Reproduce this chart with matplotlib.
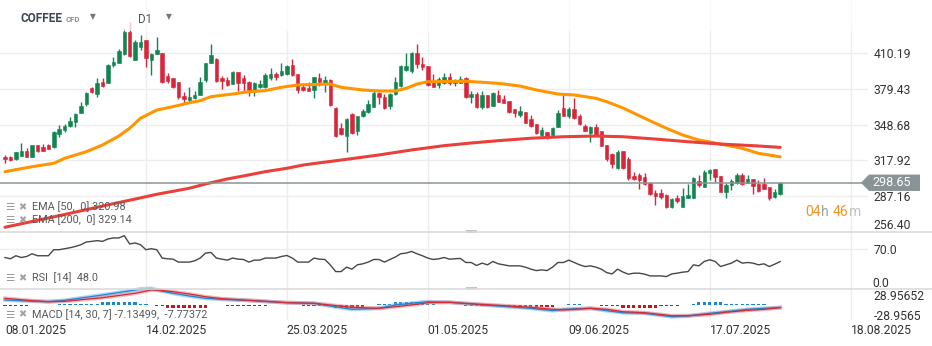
import matplotlib
matplotlib.use("Agg")
import matplotlib.pyplot as plt
from matplotlib.patches import Polygon, Rectangle
from matplotlib.lines import Line2D
import numpy as np

plt.rcParams['font.family'] = ['Roboto', 'DejaVu Sans']

# ---------------- data ----------------
opens = [321.1, 320.8, 318.9, 322.0, 325.7, 321.1, 330.9, 329.7, 330.9, 329.7,
         340.4, 344.1, 347.8, 350.7, 359.0, 366.5, 380.0, 374.9, 385.7, 384.9,
         400.1, 402.1, 410.0, 428.5, 404.4, 415.6, 421.6, 404.4, 409.6, 410.2,
         390.6, 388.6, 385.2, 373.4, 369.9, 371.9, 374.3, 387.2, 401.6, 405.3,
         389.2, 387.2, 383.7, 394.1, 388.6, 385.7, 377.1, 380.9, 380.9, 388.6,
         392.4, 391.5, 392.4, 400.1, 392.4, 380.9, 380.0, 378.6, 388.6, 384.3,
         387.2, 362.8, 345.6, 338.9, 357.9, 343.5, 356.2, 359.9, 364.2, 375.7,
         372.8, 364.8, 375.1, 382.0, 395.8, 395.2, 410.7, 401.0, 399.2, 386.6,
         382.9, 384.9, 389.5, 384.3, 384.9, 388.6, 372.8, 375.1, 363.6, 374.3,
         365.0, 374.3, 370.6, 369.1, 361.9, 357.0, 359.4, 353.3, 349.0, 339.8,
         342.1, 339.8, 347.0, 362.8, 356.2, 361.9, 356.2, 347.5, 341.8, 346.4,
         343.2, 331.2, 323.4, 311.1, 326.0, 319.1, 304.7, 305.3, 303.9, 298.2,
         290.1, 289.6, 288.1, 278.0, 285.2, 278.0, 285.8, 285.8, 300.4, 295.2,
         307.3, 310.2, 304.5, 291.0, 296.5, 298.2, 305.3, 298.7, 301.9, 297.6,
         297.6, 294.7, 286.1, 288.7]
highs = [322.6, 321.7, 325.4, 332.6, 328.3, 331.0, 331.2, 331.8, 331.8, 343.2,
         348.7, 349.0, 355.0, 358.5, 368.5, 377.1, 380.9, 388.6, 388.6, 400.7,
         407.3, 413.6, 432.0, 437.2, 421.6, 426.0, 422.0, 410.4, 424.2, 410.5,
         393.5, 388.8, 385.7, 377.1, 381.4, 378.0, 389.5, 402.1, 418.2, 405.9,
         390.6, 390.0, 394.7, 394.3, 391.5, 385.9, 385.7, 387.2, 393.5, 397.3,
         394.3, 401.6, 400.1, 405.0, 392.6, 384.3, 385.7, 390.0, 393.5, 390.6,
         388.0, 363.6, 349.9, 354.2, 358.5, 356.4, 362.2, 369.9, 378.0, 377.1,
         375.1, 376.2, 390.0, 400.1, 410.2, 411.3, 418.2, 406.7, 399.6, 392.4,
         390.0, 392.9, 393.5, 387.8, 390.6, 390.0, 378.0, 377.1, 378.0, 374.5,
         376.8, 378.6, 374.3, 369.3, 362.1, 364.8, 359.6, 357.0, 349.2, 346.4,
         342.6, 347.0, 361.3, 376.2, 364.2, 371.4, 357.9, 349.3, 347.5, 349.3,
         343.4, 331.4, 324.5, 326.9, 326.2, 320.6, 308.2, 306.8, 307.3, 299.5,
         292.4, 293.0, 288.7, 285.8, 288.1, 293.9, 297.6, 303.9, 305.3, 309.6,
         310.2, 310.4, 304.7, 298.2, 301.6, 306.8, 306.8, 305.3, 302.0, 301.0,
         302.5, 295.2, 293.0, 299.0]
lows = [315.4, 317.4, 318.2, 321.7, 320.8, 321.0, 325.4, 326.0, 327.5, 328.3,
        338.3, 342.6, 347.0, 347.0, 358.5, 364.8, 375.7, 372.8, 380.9, 384.3,
        398.6, 401.6, 408.7, 407.0, 404.0, 413.0, 398.4, 391.5, 409.3, 385.0,
        384.3, 380.0, 370.6, 367.6, 369.3, 370.6, 374.0, 385.7, 401.4, 385.7,
        379.2, 382.0, 383.5, 377.7, 376.6, 373.4, 373.4, 380.0, 380.0, 387.2,
        387.2, 390.9, 391.5, 390.9, 375.7, 378.0, 377.8, 371.9, 382.0, 377.1,
        364.8, 338.3, 339.8, 325.4, 340.7, 339.8, 355.6, 359.0, 363.6, 366.5,
        361.9, 362.2, 374.3, 381.4, 395.2, 392.9, 397.3, 395.8, 382.0, 380.9,
        380.0, 383.7, 382.9, 382.0, 384.3, 371.4, 367.1, 363.3, 362.2, 363.3,
        364.8, 368.0, 367.1, 359.0, 355.6, 355.6, 349.9, 346.4, 340.7, 338.3,
        336.1, 338.9, 346.4, 356.2, 354.2, 353.3, 348.4, 343.0, 334.0, 338.9,
        330.3, 317.6, 311.6, 310.5, 310.5, 301.0, 301.0, 293.3, 296.7, 288.1,
        279.5, 284.4, 276.6, 277.1, 281.0, 277.8, 285.2, 285.6, 295.2, 295.0,
        301.0, 299.5, 290.5, 285.8, 292.4, 297.6, 296.7, 298.1, 288.9, 290.4,
        293.3, 283.8, 285.8, 288.5]
closes = [318.9, 318.2, 324.9, 326.0, 321.1, 330.9, 326.3, 326.3, 328.0, 342.6,
          345.2, 347.3, 351.9, 357.9, 364.8, 376.2, 376.6, 384.9, 382.0, 400.1,
          403.0, 412.4, 428.5, 407.9, 419.9, 419.9, 406.1, 409.6, 413.0, 385.7,
          386.6, 380.9, 372.8, 370.6, 372.8, 374.3, 385.7, 401.6, 408.7, 386.6,
          386.6, 382.9, 394.1, 384.3, 384.3, 377.1, 384.3, 383.7, 391.5, 392.4,
          389.5, 395.2, 399.2, 391.5, 378.6, 378.6, 378.0, 389.5, 385.7, 387.2,
          365.6, 338.9, 340.7, 353.3, 341.3, 356.2, 360.7, 366.5, 375.7, 372.8,
          362.8, 375.1, 385.7, 399.2, 399.2, 410.7, 401.0, 398.1, 382.9, 381.4,
          387.8, 390.0, 384.3, 387.2, 387.8, 372.8, 375.1, 364.2, 374.3, 364.2,
          376.2, 368.5, 367.6, 359.9, 359.0, 360.5, 350.4, 347.5, 341.3, 344.1,
          338.9, 345.6, 358.5, 356.4, 361.9, 354.7, 349.0, 343.5, 346.4, 339.8,
          330.6, 318.9, 314.5, 325.4, 311.6, 302.5, 301.9, 301.0, 297.3, 288.7,
          287.5, 286.6, 277.5, 284.4, 283.2, 287.5, 288.1, 303.0, 296.7, 307.6,
          309.6, 303.9, 291.0, 296.7, 300.1, 305.3, 297.3, 301.9, 296.1, 291.8,
          293.5, 285.8, 290.4, 298.65]

ema50_idx = [0, 5, 9, 11, 15, 18, 21, 23, 25, 28, 31, 34, 36, 38, 42, 45, 48, 51, 54, 57,
             60, 62, 66, 69, 72, 74, 76, 78, 85, 91, 95, 98, 102, 105, 109, 111, 114, 118,
             122, 125, 128, 132, 136, 139, 143]
ema50_val = [308.2, 312.5, 315.4, 319.7, 325.4, 331.2, 338.9, 345.6, 354.2, 361.3,
             364.2, 367.6, 369.3, 372.8, 375.1, 377.1, 378.0, 380.9, 382.9, 383.3,
             383.7, 380.9, 378.6, 377.7, 377.7, 380.0, 383.7, 385.7, 386.1, 384.3,
             382.0, 378.6, 375.1, 374.3, 371.4, 368.5, 363.1, 354.2, 345.6, 339.8,
             335.5, 332.0, 328.3, 324.0, 320.98]
ema200_idx = [0, 5, 11, 18, 24, 28, 34, 37, 41, 44, 48, 52, 55, 57, 62, 69, 75, 81, 86, 91,
              97, 103, 109, 114, 120, 126, 132, 138, 143]
ema200_val = [260.3, 265.3, 271.3, 278.6, 284.6, 288.7, 293.9, 297.6, 301.9, 304.5,
              308.2, 311.1, 313.9, 315.2, 318.2, 322.6, 326.9, 330.6, 332.9, 334.9,
              337.0, 338.3, 338.9, 338.3, 336.3, 334.0, 332.0, 330.6, 329.14]

rsi = [55.1, 52.8, 58.2, 55.1, 56.9, 61.7, 58.2, 58.2, 58.2, 68.8,
       68.8, 70.6, 72.3, 74.6, 77.6, 82.4, 83.5, 84.8, 83.5, 87.8,
       89.5, 89.5, 93.6, 78.9, 80.7, 77.6, 68.8, 70.6, 68.8, 54.1,
       52.8, 52.2, 47.0, 47.0, 47.0, 49.3, 54.1, 62.9, 64.0, 54.1,
       52.2, 50.5, 54.1, 52.2, 51.6, 47.0, 50.5, 50.5, 54.1, 54.1,
       54.1, 56.9, 58.7, 54.1, 47.0, 47.0, 47.0, 54.1, 52.2, 51.6,
       42.2, 30.3, 30.3, 38.1, 34.6, 42.2, 44.0, 47.0, 51.6, 51.6,
       47.0, 51.6, 55.9, 61.7, 62.9, 65.8, 61.7, 58.2, 54.1, 51.6,
       52.8, 55.1, 52.2, 52.8, 53.5, 46.3, 46.3, 41.0, 45.2, 42.2,
       48.1, 44.0, 42.2, 40.4, 40.4, 40.4, 38.1, 34.6, 32.1, 33.3,
       32.1, 38.1, 46.3, 46.3, 50.5, 46.3, 42.2, 39.2, 40.4, 38.1,
       34.6, 28.5, 26.2, 34.6, 29.5, 25.7, 27.5, 27.5, 25.7, 22.7,
       22.7, 22.7, 21.5, 26.2, 27.5, 29.3, 30.3, 42.2, 40.4, 48.1,
       51.1, 48.1, 39.2, 42.2, 45.2, 50.5, 45.2, 46.3, 45.2, 42.2,
       44.0, 39.2, 43.4, 48.0]

macd_idx = [0, 5, 8, 11, 18, 24, 25, 27, 28, 31, 34, 37, 40, 46, 52, 57, 60, 64, 69, 72,
            76, 78, 82, 86, 91, 97, 101, 103, 108, 111, 114, 118, 123, 126, 130, 133, 137,
            140, 143]
macd_val = [14.5, 11.0, 9.6, 13.6, 29.0, 43.4, 46.3, 47.8, 43.4, 33.9,
            26.1, 19.4, 16.5, 12.5, 6.7, 4.9, -2.9, -12.5, -9.6, 0.0,
            6.7, 9.6, 7.8, 2.9, -2.9, -9.6, -16.5, -12.5, -9.6, -16.5,
            -22.3, -24.0, -33.9, -31.9, -24.0, -19.4, -12.5, -9.6, -7.13499]
signal_val = [19.4, 12.5, 9.6, 10.7, 21.1, 33.9, 37.0, 43.4, 43.4, 38.5,
              31.9, 24.0, 18.2, 12.5, 6.7, 4.9, 0.0, -6.7, -9.6, -4.9,
              2.0, 6.7, 7.8, 3.5, -0.9, -6.7, -12.5, -14.5, -9.6, -12.5,
              -19.4, -22.3, -31.0, -31.0, -26.9, -21.1, -15.3, -12.5, -7.77372]
hist = [-3, -3, -3, -3, -3, 0, 0, 0, 0, 0,
        3, 3, 3, 3, 3, 3, 3, 3, 9, 9,
        9, 9, 9, 9, 9, 3, 3, 0, -3, -3,
        -9, -9, -9, -9, -9, -9, -9, -9, 0, 0,
        0, -3, -3, -3, -3, -3, -3, -3, -3, 0,
        0, 0, 0, 0, 0, -3, -3, -3, -3, -3,
        -3, -9, -9, -9, -9, -9, -9, 0, 0, 3,
        3, 3, 9, 9, 9, 9, 9, 3, 3, 3,
        0, 0, 0, 0, 0, -3, -3, -3, -3, -3,
        -3, -3, -3, -6, -6, -6, -6, -6, -6, -6,
        -6, -6, 0, 0, 3, 3, 3, 0, 0, 0,
        -3, -3, -3, -3, -9, -9, -9, -9, -9, -9,
        -9, -3, -3, -3, -3, 0, 0, 3, 9, 9,
        9, 9, 9, 3, 3, 3, 3, 3, 3, 3,
        3, 0.6, 0.6, 0.6]

price_levels = [410.19, 379.43, 348.68, 317.92, 287.16, 256.40]
date_idx = [0, 26, 52, 78, 104, 130, 156]
date_labels = ["08.01.2025", "14.02.2025", "25.03.2025", "01.05.2025",
               "09.06.2025", "17.07.2025", "18.08.2025"]
last_price = 298.65

# ---------------- layout ----------------
W, H = 932, 346
fig = plt.figure(figsize=(W / 100, H / 100), dpi=100)
fig.patch.set_facecolor("white")


def fx(px):
    return px / W


def fy(py):
    return 1 - py / H


PLOT_R = 868
ax_main = fig.add_axes([0, fy(232), fx(PLOT_R), 232 / H])
ax_rsi = fig.add_axes([0, fy(288.8), fx(PLOT_R), 56.8 / H])
ax_macd = fig.add_axes([0, fy(320), fx(PLOT_R), 31.2 / H])

XLIM = (-0.92, 159.2)
GRID = "#ededed"
LBL = "#333333"
for ax in (ax_main, ax_rsi, ax_macd):
    ax.set_xlim(*XLIM)
    for s in ax.spines.values():
        s.set_visible(False)
    ax.yaxis.tick_right()
    ax.tick_params(axis="y", length=0, pad=4, labelsize=8.7, labelcolor=LBL)
    ax.tick_params(axis="x", length=0)
    for gx in date_idx[1:]:
        ax.axvline(gx, color=GRID, lw=1, zorder=0)

# ---------------- main panel ----------------
ax_main.set_ylim(256.22, 456.11)
for lv in price_levels:
    ax_main.axhline(lv, color=GRID, lw=1, zorder=0)
ax_main.set_yticks(price_levels)
ax_main.set_yticklabels([f"{v:.2f}" for v in price_levels])
ax_main.get_yticklabels()[-1].set_verticalalignment("bottom")
ax_main.set_xticks([])

idx = np.arange(len(closes))
o = np.array(opens)
c = np.array(closes)
up = c >= o
GREEN, RED = "#12844f", "#d8253a"
cols = np.where(up, GREEN, RED)
ax_main.vlines(idx, lows, highs, colors=cols, lw=1, zorder=2)
body_b = np.minimum(o, c)
body_h = np.maximum(np.abs(c - o), 0.9)
ax_main.bar(idx, body_h, bottom=body_b, width=0.64, color=cols,
            edgecolor=cols, linewidth=0.4, zorder=2)

ax_main.plot(ema50_idx, ema50_val, color="#ff9500", lw=2.2, zorder=3,
             solid_capstyle="round")
ax_main.plot(ema200_idx, ema200_val, color="#e8403a", lw=2.2, zorder=3,
             solid_capstyle="round")
ax_main.axhline(last_price, color="#8c9496", lw=1.1, zorder=4)

# ---------------- RSI panel ----------------
ax_rsi.set_ylim(0, 100)
ax_rsi.axhline(70, color=GRID, lw=1, zorder=0)
ax_rsi.set_yticks([70])
ax_rsi.set_yticklabels(["70.0"])
ax_rsi.set_xticks([])
ax_rsi.plot(idx, rsi, color="#474747", lw=1.0, zorder=3)
ax_rsi.text(1 + 4 / PLOT_R, 0.095, "0.0", transform=ax_rsi.transAxes, ha="left",
            va="center", fontsize=8.7, color=LBL, clip_on=False)

# ---------------- MACD panel ----------------
ax_macd.set_ylim(-43.4, 46.9)
ax_macd.set_yticks([28.95652, -28.95652])
ax_macd.set_yticklabels(["28.95652", "-28.9565"])
hist_a = np.array(hist, dtype=float)
hcols = np.where(hist_a >= 0, "#1a86d0", "#d0121f")
ax_macd.bar(idx, hist_a, width=0.6, color=hcols, zorder=2)
ax_macd.plot(macd_idx, macd_val, color="#5fb0e8", lw=2.8, alpha=0.5, zorder=3, clip_on=False)
ax_macd.plot(macd_idx, macd_val, color="#1f86d4", lw=0.9, zorder=4, clip_on=False)
ax_macd.plot(macd_idx, signal_val, color="#ec7b82", lw=2.8, alpha=0.5, zorder=3, clip_on=False)
ax_macd.plot(macd_idx, signal_val, color="#d42a35", lw=0.9, zorder=4, clip_on=False)
ax_macd.set_xticks(date_idx)
ax_macd.set_xticklabels(date_labels)
ax_macd.tick_params(axis="x", pad=3, labelsize=8.7, labelcolor=LBL)
for t in ax_macd.get_xticklabels():
    t.set_horizontalalignment("left")

# ---------------- separators / handles ----------------
for yy in (232, 288.6):
    fig.add_artist(Line2D([0, 1], [fy(yy), fy(yy)], color="#d9d9d9", lw=1.1))
    fig.add_artist(Rectangle((fx(466), fy(yy) - 0.5 / H), fx(11), 2.2 / H,
                             color="#c4c4c4", lw=0))

# header overlay (white veil)
fig.add_artist(Rectangle((0, fy(31)), fx(860), 31 / H, color="white",
                         alpha=0.72, lw=0, zorder=5))

# ---------------- header texts ----------------
fig.text(fx(20.5), fy(18.5), "COFFEE", fontsize=8.5, fontweight="bold",
         color="#3c4652", va="center", ha="left", zorder=6)
fig.text(fx(66), fy(19.5), "CFD", fontsize=5.6, fontweight="bold",
         color="#8c8c8c", va="center", ha="left", zorder=6)
fig.text(fx(90), fy(17), "\u25BC", fontsize=5.5, color="#777777",
         va="center", ha="left", family="DejaVu Sans", zorder=6)
fig.text(fx(138), fy(19.5), "D1", fontsize=8.3, color="#555555",
         va="center", ha="left", zorder=6)
fig.text(fx(166), fy(17), "\u25BC", fontsize=5.5, color="#777777",
         va="center", ha="left", family="DejaVu Sans", zorder=6)

# ---------------- legends ----------------
legend_rows = [(207, "EMA [50,  0] 320.98"), (220, "EMA [200,  0] 329.14"),
               (278, "RSI  [14]  48.0"), (314.5, "MACD [14, 30, 7] -7.13499,  -7.77372")]
for yy, txt in legend_rows:
    fig.text(fx(5), fy(yy), "\u2630", fontsize=7.5, color="#9a9a9a",
             va="center", ha="left", family="DejaVu Sans", zorder=6)
    fig.text(fx(18.5), fy(yy), "\u2716", fontsize=7, color="#a2a2a2",
             va="center", ha="left", family="DejaVu Sans", zorder=6)
    fig.text(fx(31.5), fy(yy), txt, fontsize=7.8, color="#595959",
             va="center", ha="left", zorder=6)

# ---------------- price tag ----------------
fig.canvas.draw()
ty = ax_main.transData.transform((0, last_price))[1] / fig.bbox.height
th = 8.2 / H
pts = [(fx(861), ty), (fx(869), ty + th), (fx(920), ty + th),
       (fx(920), ty - th), (fx(869), ty - th)]
fig.add_artist(Polygon(pts, closed=True, color="#8a9396", lw=0, zorder=6))
fig.text(fx(872), ty, f"{last_price:.2f}", fontsize=9, color="white",
         va="center", ha="left", zorder=7)

# countdown
ORANGE = "#f7931e"
fig.text(fx(805), fy(212), "04", fontsize=10, color=ORANGE, va="center", ha="left")
fig.text(fx(821.5), fy(212), "h", fontsize=10, color="#9aa0a6", va="center", ha="left")
fig.text(fx(832.5), fy(212), "46", fontsize=10, color=ORANGE, va="center", ha="left")
fig.text(fx(849), fy(212), "m", fontsize=10, color="#c2c2c2", va="center", ha="left")

fig.savefig("out.png", dpi=100, facecolor="white")
